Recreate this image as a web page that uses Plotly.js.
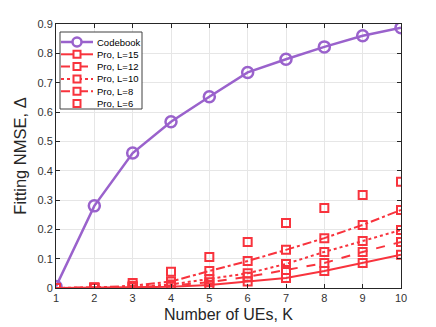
<!DOCTYPE html>
<html>
<head>
<meta charset="utf-8">
<script src="https://cdn.plot.ly/plotly-3.0.1.min.js"></script>
<style>
  html, body { margin: 0; padding: 0; background: #fff; }
  #chart { width: 436px; height: 327px; }
</style>
</head>
<body>
<div id="chart"></div>
<script>
// number of UEs
var K = [1, 2, 3, 4, 5, 6, 7, 8, 9, 10];

// fitting NMSE
var codebook = [0.005, 0.28, 0.46, 0.567, 0.652, 0.735, 0.78, 0.822, 0.86, 0.887];
var proL15 = [0, 0.001, 0.002, 0.004, 0.01, 0.022, 0.034, 0.058, 0.085, 0.113];
var proL12 = [0, 0.001, 0.003, 0.008, 0.02, 0.038, 0.061, 0.085, 0.123, 0.157];
var proL10 = [0, 0.001, 0.004, 0.012, 0.03, 0.05, 0.082, 0.123, 0.16, 0.198];
var proL8 = [0, 0.001, 0.008, 0.022, 0.058, 0.092, 0.13, 0.17, 0.215, 0.266];
var proL6 = [0, 0.002, 0.017, 0.055, 0.106, 0.157, 0.222, 0.273, 0.317, 0.362];

var seriesNames = ['Codebook', 'Pro, L=15', 'Pro, L=12', 'Pro, L=10', 'Pro, L=8', 'Pro, L=6'];

var purple = '#9a62cc';
var red = '#f8333d';
var font = 'Liberation Sans, Arial, sans-serif';

// plot area in pixels (MATLAB-like placement)
var W = 436, H = 327;
var M = { l: 56, r: 35, t: 24, b: 39 };
var pw = W - M.l - M.r, ph = H - M.t - M.b;

function proTrace(name, y, dash, mode) {
    return {
        x: K, y: y, name: name, type: 'scatter', mode: mode || 'lines+markers',
        line: { color: red, width: 2, dash: dash },
        marker: { symbol: 'square-open', size: 8, color: red, line: { width: 2, color: red } }
    };
}

var styles = [
    { color: purple, dash: 'solid', line: true, sym: 'circle' },
    { color: red, dash: 'solid', line: true, sym: 'square' },
    { color: red, dash: 'dash', line: true, sym: 'square' },
    { color: red, dash: 'dot', line: true, sym: 'square' },
    { color: red, dash: 'dashdot', line: true, sym: 'square' },
    { color: red, dash: 'solid', line: false, sym: 'square' }
];

var data = [
    {
        x: K, y: codebook, name: seriesNames[0], type: 'scatter', mode: 'lines+markers',
        line: { color: purple, width: 2.5 },
        marker: { symbol: 'circle-open', size: 11, color: purple, line: { width: 2.5, color: purple } }
    },
    proTrace(seriesNames[1], proL15, 'solid'),
    proTrace(seriesNames[2], proL12, 'dash'),
    proTrace(seriesNames[3], proL10, 'dot'),
    proTrace(seriesNames[4], proL8, 'dashdot'),
    proTrace(seriesNames[5], proL6, 'solid', 'markers')
];

// compact MATLAB style legend box, drawn with shapes
function px(x) { return (x - M.l) / pw; }
function py(y) { return (H - M.b - y) / ph; }

var shapes = [{
    type: 'rect', xref: 'paper', yref: 'paper',
    x0: px(60), x1: px(142), y0: py(32), y1: py(109),
    fillcolor: '#fff', line: { color: '#404040', width: 1 }, layer: 'above'
}];
var annotations = [];
seriesNames.forEach(function (name, i) {
    var s = styles[i];
    var rowY = 42 + i * 12.3;
    if (s.line) {
        shapes.push({
            type: 'line', xref: 'paper', yref: 'paper',
            x0: px(61), x1: px(93), y0: py(rowY), y1: py(rowY),
            line: { color: s.color, width: i === 0 ? 2.5 : 2, dash: s.dash }, layer: 'above'
        });
    }
    var r = s.sym === 'circle' ? 4.5 : 3.5;
    shapes.push({
        type: s.sym === 'circle' ? 'circle' : 'rect', xref: 'paper', yref: 'paper',
        xsizemode: 'pixel', ysizemode: 'pixel', xanchor: px(77), yanchor: py(rowY),
        x0: -r, x1: r, y0: -r, y1: r,
        fillcolor: '#fff', line: { color: s.color, width: i === 0 ? 2.5 : 2 }, layer: 'above'
    });
    annotations.push({
        xref: 'paper', yref: 'paper', x: px(95), y: py(rowY), xanchor: 'left', yanchor: 'middle',
        text: name, showarrow: false, font: { family: font, size: 9.5, color: '#000' }
    });
});

var axisStyle = {
    showline: true, linecolor: '#262626', linewidth: 1, mirror: 'ticks',
    ticks: 'inside', ticklen: 4, tickcolor: '#262626',
    showgrid: true, gridcolor: '#e6e6e6', zeroline: false,
    tickfont: { family: font, size: 11, color: '#333' }
};

var layout = {
    width: W, height: H,
    margin: M,
    paper_bgcolor: '#fff', plot_bgcolor: '#fff',
    showlegend: false,
    shapes: shapes,
    annotations: annotations,
    xaxis: Object.assign({}, axisStyle, {
        range: [1, 10], tickvals: K,
        title: { text: 'Number of UEs, K', font: { family: font, size: 16, color: '#262626' }, standoff: 5 }
    }),
    yaxis: Object.assign({}, axisStyle, {
        range: [0, 0.9], dtick: 0.1,
        title: { text: 'Fitting NMSE, Δ', font: { family: font, size: 16.5, color: '#262626' }, standoff: 6 }
    })
};

Plotly.newPlot('chart', data, layout, { displayModeBar: false, staticPlot: true });
</script>
</body>
</html>
